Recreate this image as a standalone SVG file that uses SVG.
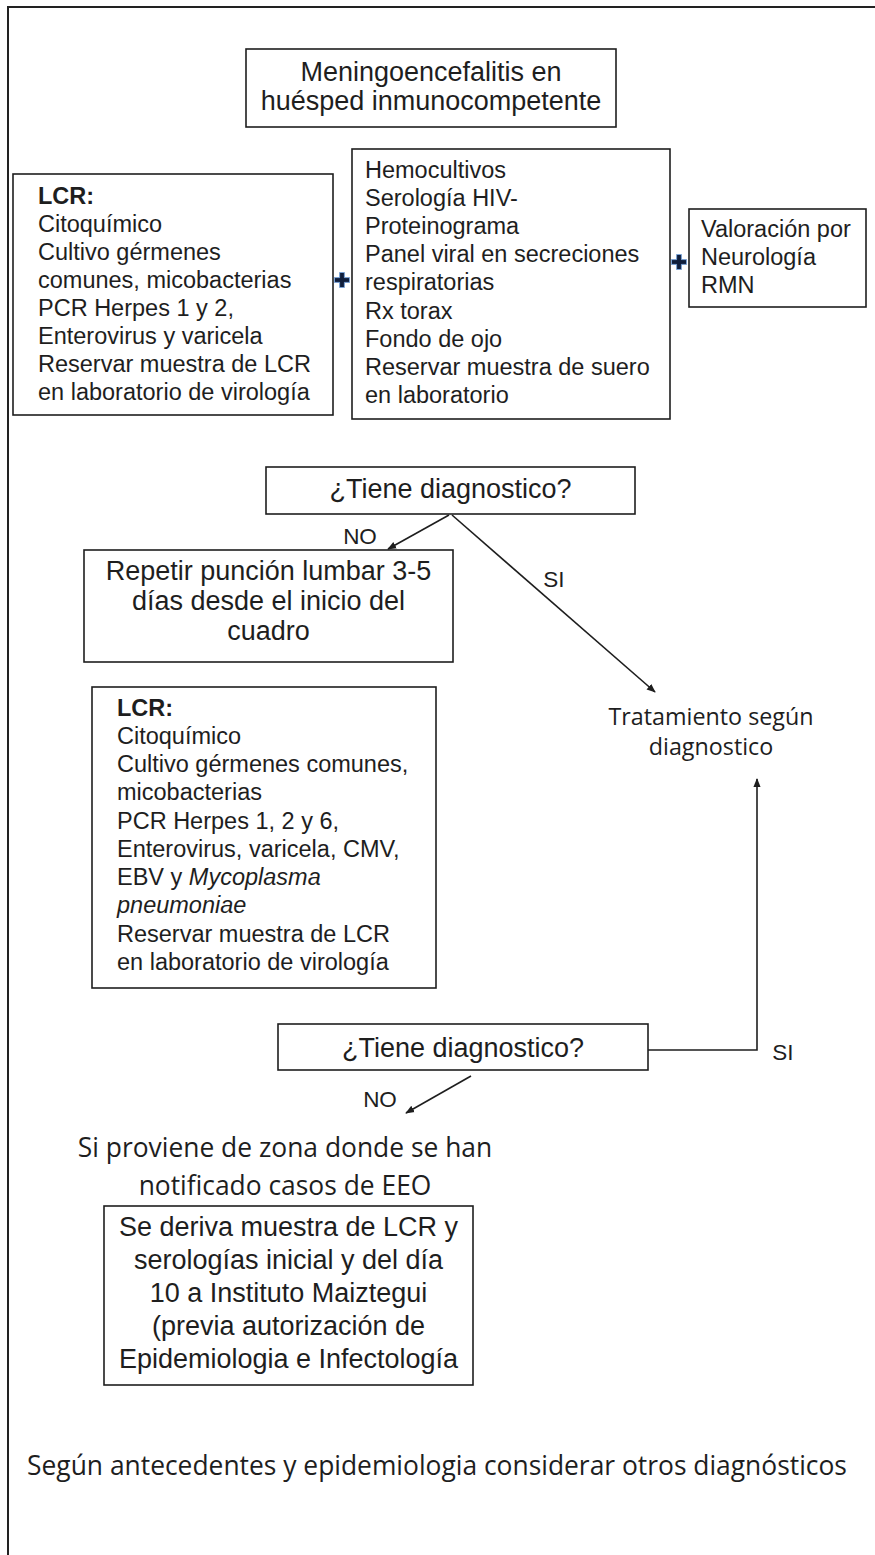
<svg xmlns="http://www.w3.org/2000/svg" width="875" height="1555" viewBox="0 0 875 1555">
<style>
.box{fill:#fff;stroke:#1e1e1e;stroke-width:1.6}
.t{font-family:"Liberation Sans",Arial,sans-serif;fill:#1e1e1e}
.s23{font-size:23.5px}
.c27{font-size:27px;text-anchor:middle}
.cal{font-family:"Open Sans",sans-serif;fill:#1e1e1e;text-anchor:middle}
.lbl{font-family:"Liberation Sans",Arial,sans-serif;fill:#1e1e1e;font-size:22.5px;text-anchor:middle}
.conn{stroke:#1e1e1e;stroke-width:1.6;fill:none}
.plus{fill:#0f1e3c;stroke:#7aa3d6;stroke-width:1}
</style>
<defs>
<marker id="ah" viewBox="0 0 10 10" refX="9" refY="5" markerWidth="9" markerHeight="9" markerUnits="userSpaceOnUse" orient="auto">
<path d="M0,1 L10,5 L0,9 z" fill="#1e1e1e"/>
</marker>
<path id="plusShape" d="M-2.4,-7.5 H2.4 V-2.4 H7.5 V2.4 H2.4 V7.5 H-2.4 V2.4 H-7.5 V-2.4 H-2.4 Z"/>
</defs>
<rect width="875" height="1555" fill="#fff"/>
<path d="M8,1555 V7 H875" stroke="#222" stroke-width="2" fill="none"/>

<g id="connectors">
<line class="conn" x1="449" y1="515" x2="388" y2="549" marker-end="url(#ah)"/>
<line class="conn" x1="452" y1="515" x2="655" y2="692" marker-end="url(#ah)"/>
<polyline class="conn" points="648,1050 757,1050 757,779" marker-end="url(#ah)"/>
<line class="conn" x1="471" y1="1076" x2="406" y2="1113" marker-end="url(#ah)"/>
<text class="lbl" x="360" y="544">NO</text>
<text class="lbl" x="554" y="587">SI</text>
<text class="lbl" x="380" y="1107">NO</text>
<text class="lbl" x="783" y="1060">SI</text>
</g>

<g id="title">
<rect class="box" x="246" y="49" width="370" height="78"/>
<text class="t c27" x="431" y="81">Meningoencefalitis en</text>
<text class="t c27" x="431" y="110">huésped inmunocompetente</text>
</g>

<g id="lcr1">
<rect class="box" x="13" y="174" width="320" height="241"/>
<text class="t s23" x="38" y="204" font-weight="bold">LCR:</text>
<text class="t s23" x="38" y="232">Citoquímico</text>
<text class="t s23" x="38" y="260">Cultivo gérmenes</text>
<text class="t s23" x="38" y="288">comunes, micobacterias</text>
<text class="t s23" x="38" y="316">PCR Herpes 1 y 2,</text>
<text class="t s23" x="38" y="344">Enterovirus y varicela</text>
<text class="t s23" x="38" y="372">Reservar muestra de LCR</text>
<text class="t s23" x="38" y="400">en laboratorio de virología</text>
</g>

<g id="plus1"><use href="#plusShape" class="plus" transform="translate(342,280)"/></g>

<g id="estudios">
<rect class="box" x="352" y="149" width="318" height="270"/>
<text class="t s23" x="365" y="178">Hemocultivos</text>
<text class="t s23" x="365" y="206">Serología HIV-</text>
<text class="t s23" x="365" y="234">Proteinograma</text>
<text class="t s23" x="365" y="262">Panel viral en secreciones</text>
<text class="t s23" x="365" y="290">respiratorias</text>
<text class="t s23" x="365" y="319">Rx torax</text>
<text class="t s23" x="365" y="347">Fondo de ojo</text>
<text class="t s23" x="365" y="375">Reservar muestra de suero</text>
<text class="t s23" x="365" y="403">en laboratorio</text>
</g>

<g id="plus2"><use href="#plusShape" class="plus" transform="translate(679,262)"/></g>

<g id="neuro">
<rect class="box" x="689" y="209" width="177" height="98"/>
<text class="t s23" x="701" y="237">Valoración por</text>
<text class="t s23" x="701" y="265">Neurología</text>
<text class="t s23" x="701" y="293">RMN</text>
</g>

<g id="diag1">
<rect class="box" x="266" y="467" width="369" height="47"/>
<text class="t c27" x="450.5" y="498">¿Tiene diagnostico?</text>
</g>

<g id="repetir">
<rect class="box" x="84" y="550" width="369" height="112"/>
<text class="t c27" x="268.5" y="580">Repetir punción lumbar 3-5</text>
<text class="t c27" x="268.5" y="610">días desde el inicio del</text>
<text class="t c27" x="268.5" y="640">cuadro</text>
</g>

<g id="tratamiento">
<text class="cal" x="711" y="725" font-size="23.3">Tratamiento según</text>
<text class="cal" x="711" y="755" font-size="23.3">diagnostico</text>
</g>

<g id="lcr2">
<rect class="box" x="92" y="687" width="344" height="301"/>
<text class="t s23" x="117" y="716" font-weight="bold">LCR:</text>
<text class="t s23" x="117" y="744">Citoquímico</text>
<text class="t s23" x="117" y="772">Cultivo gérmenes comunes,</text>
<text class="t s23" x="117" y="800">micobacterias</text>
<text class="t s23" x="117" y="829">PCR Herpes 1, 2 y 6,</text>
<text class="t s23" x="117" y="857">Enterovirus, varicela, CMV,</text>
<text class="t s23" x="117" y="885">EBV y <tspan font-style="italic">Mycoplasma</tspan></text>
<text class="t s23" x="117" y="913" font-style="italic">pneumoniae</text>
<text class="t s23" x="117" y="942">Reservar muestra de LCR</text>
<text class="t s23" x="117" y="970">en laboratorio de virología</text>
</g>

<g id="diag2">
<rect class="box" x="278" y="1024" width="370" height="46"/>
<text class="t c27" x="463" y="1057">¿Tiene diagnostico?</text>
</g>

<g id="zona">
<text class="cal" x="285" y="1157" font-size="26.4">Si proviene de zona donde se han</text>
<text class="cal" x="285" y="1195" font-size="26.4">notificado casos de EEO</text>
</g>

<g id="deriva">
<rect class="box" x="104" y="1206" width="369" height="179"/>
<text class="t c27" x="288.5" y="1236">Se deriva muestra de LCR y</text>
<text class="t c27" x="288.5" y="1269">serologías inicial y del día</text>
<text class="t c27" x="288.5" y="1302">10 a Instituto Maiztegui</text>
<text class="t c27" x="288.5" y="1335">(previa autorización de</text>
<text class="t c27" x="288.5" y="1368">Epidemiologia e Infectología</text>
</g>

<g id="otros">
<text class="cal" x="437" y="1475" font-size="26.4">Según antecedentes y epidemiologia considerar otros diagnósticos</text>
</g>
</svg>
